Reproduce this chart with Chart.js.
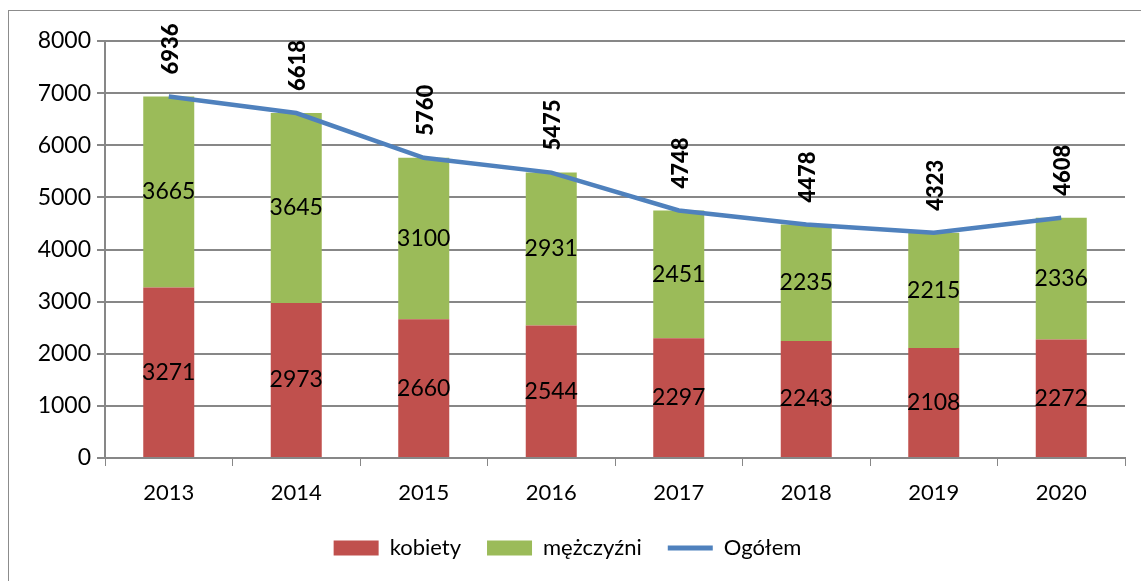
<!DOCTYPE html>
<html>
<head>
<meta charset="utf-8">
<script src="https://cdn.jsdelivr.net/npm/chart.js@4"></script>
<style>
  html, body { margin: 0; padding: 0; background: #fff; }
  #wrap { width: 1141px; height: 581px; }
</style>
</head>
<body>
<div id="wrap"><canvas id="chart" width="1141" height="581"></canvas></div>
<script>
const years = ['2013', '2014', '2015', '2016', '2017', '2018', '2019', '2020'];
const kobiety = [3271, 2973, 2660, 2544, 2297, 2243, 2108, 2272];
const mezczyzni = [3665, 3645, 3100, 2931, 2451, 2235, 2215, 2336];
const ogolem = [6936, 6618, 5760, 5475, 4748, 4478, 4323, 4608];

const FONT = 'Lato, "Open Sans", sans-serif';
const GRID = '#878787';

// ramka wokol wykresu + etykiety danych
const labelsPlugin = {
  id: 'labels',
  beforeDraw(chart) {
    const c = chart.ctx;
    c.save();
    c.strokeStyle = '#8c8c8c';
    c.lineWidth = 1;
    c.strokeRect(8.5, 10.5, 1200, 700);
    c.restore();
  },
  afterDatasetsDraw(chart) {
    const c = chart.ctx;
    c.save();
    c.fillStyle = '#000';
    c.font = '23px ' + FONT;
    c.textAlign = 'center';
    c.textBaseline = 'middle';
    [0, 1].forEach(i => {
      chart.getDatasetMeta(i).data.forEach((bar, j) => {
        const y = (bar.y + bar.base) / 2;
        c.fillText(chart.data.datasets[i].data[j], bar.x, y);
      });
    });
    c.font = '900 22px ' + FONT;
    c.textAlign = 'left';
    chart.getDatasetMeta(2).data.forEach((pt, j) => {
      c.save();
      c.translate(pt.x + 2, pt.y - 22);
      c.rotate(-Math.PI / 2);
      c.fillText(ogolem[j], 0, 0);
      c.restore();
    });
    c.restore();
  }
};

new Chart(document.getElementById('chart'), {
  type: 'bar',
  data: {
    labels: years,
    datasets: [
      {
        label: 'kobiety',
        data: kobiety,
        backgroundColor: '#C0504D',
        stack: 's',
        categoryPercentage: 1,
        barPercentage: 0.4,
        order: 2
      },
      {
        label: 'mężczyźni',
        data: mezczyzni,
        backgroundColor: '#9BBB59',
        stack: 's',
        categoryPercentage: 1,
        barPercentage: 0.4,
        order: 2
      },
      {
        type: 'line',
        label: 'Ogółem',
        data: ogolem,
        borderColor: '#4F81BD',
        backgroundColor: '#4F81BD',
        borderWidth: 4.5,
        pointRadius: 0,
        tension: 0,
        order: 1
      }
    ]
  },
  options: {
    responsive: false,
    animation: false,
    layout: { padding: { top: 41, right: 16, left: 10, bottom: 12 } },
    plugins: {
      legend: {
        position: 'bottom',
        labels: {
          font: { family: FONT, size: 22 },
          color: '#000',
          usePointStyle: true,
          pointStyleWidth: 45,
          boxHeight: 15,
          padding: 26,
          generateLabels(chart) {
            return chart.data.datasets.map((ds, i) => ({
              text: ds.label,
              fillStyle: ds.backgroundColor,
              strokeStyle: ds.type === 'line' ? ds.borderColor : ds.backgroundColor,
              lineWidth: ds.type === 'line' ? 5 : 0,
              pointStyle: ds.type === 'line' ? 'line' : 'rect',
              datasetIndex: i
            }));
          }
        }
      },
      tooltip: { enabled: false }
    },
    scales: {
      x: {
        stacked: true,
        ticks: { color: '#000', font: { family: FONT, size: 22 }, padding: 14 },
        grid: { offset: true, drawOnChartArea: false, drawTicks: true, tickLength: 8, color: GRID },
        border: { color: GRID, width: 2 },
        afterFit(scale) { scale.height = 53; }
      },
      y: {
        stacked: true,
        min: 0,
        max: 8000,
        ticks: {
          stepSize: 1000,
          color: '#000',
          font: { family: FONT, size: 23 },
          padding: 6,
          callback: v => String(v)
        },
        grid: { color: GRID, lineWidth: 2, tickLength: 8 },
        border: { color: GRID, width: 2 },
        afterFit(scale) { scale.width = 95; }
      }
    }
  },
  plugins: [labelsPlugin]
});
</script>
</body>
</html>
